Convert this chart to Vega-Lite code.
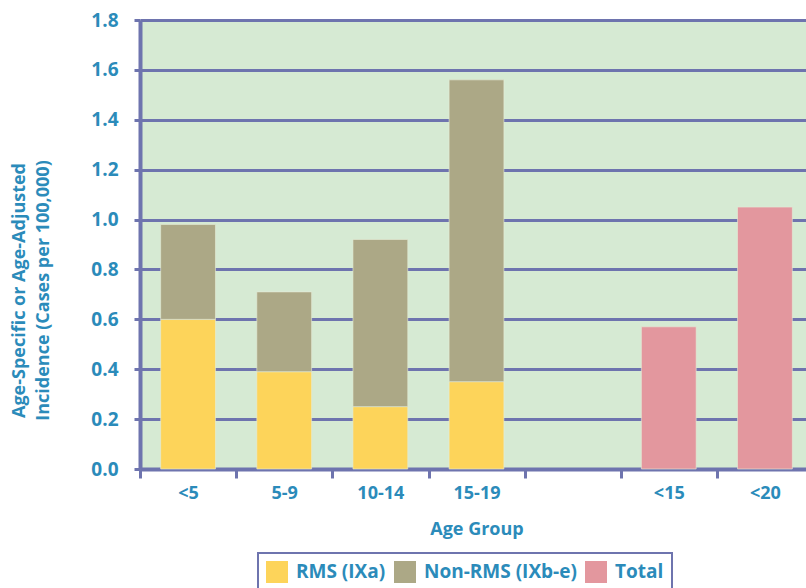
{
  "$schema": "https://vega.github.io/schema/vega-lite/v6.json",
  "width": 666,
  "height": 449,
  "autosize": {"type": "none"},
  "padding": {"left": 140, "top": 20, "right": 0, "bottom": 119},
  "background": "white",
  "config": {
    "font": "Open Sans",
    "view": {"stroke": null, "fill": "#d6ead3"},
    "legend": {"strokeWidth": 2},
    "axis": {
      "labelFont": "Open Sans",
      "titleFont": "Open Sans",
      "labelFontWeight": "bold",
      "titleFontWeight": "bold",
      "labelColor": "#2b8bba",
      "titleColor": "#2b8bba",
      "domainColor": "#6e74ae",
      "tickColor": "#6e74ae",
      "gridColor": "#6e74ae"
    }
  },
  "data": {
    "values": [
      {"group": "<5", "series": "RMS (IXa)", "value": 0.60, "o": 1},
      {"group": "<5", "series": "Non-RMS (IXb-e)", "value": 0.38, "o": 2},
      {"group": "5-9", "series": "RMS (IXa)", "value": 0.39, "o": 1},
      {"group": "5-9", "series": "Non-RMS (IXb-e)", "value": 0.32, "o": 2},
      {"group": "10-14", "series": "RMS (IXa)", "value": 0.25, "o": 1},
      {"group": "10-14", "series": "Non-RMS (IXb-e)", "value": 0.67, "o": 2},
      {"group": "15-19", "series": "RMS (IXa)", "value": 0.35, "o": 1},
      {"group": "15-19", "series": "Non-RMS (IXb-e)", "value": 1.21, "o": 2},
      {"group": "<15", "series": "Total", "value": 0.57, "o": 3},
      {"group": "<20", "series": "Total", "value": 1.05, "o": 3}
    ]
  },
  "mark": {"type": "bar", "stroke": "#e6ecd8", "strokeWidth": 0.6},
  "encoding": {
    "x": {
      "field": "group",
      "type": "nominal",
      "scale": {
        "domain": ["<5", "5-9", "10-14", "15-19", "", "<15", "<20"],
        "range": [0, 673],
        "paddingInner": 0.43,
        "paddingOuter": 0.215
      },
      "axis": {
        "title": "Age Group",
        "labelAngle": 0,
        "labelFontSize": 18,
        "titleFontSize": 18,
        "labelPadding": 6,
        "titlePadding": 18,
        "tickOffset": -48,
        "labelOffset": 48,
        "tickSize": 9,
        "tickWidth": 3,
        "domainWidth": 4,
        "grid": false
      }
    },
    "y": {
      "field": "value",
      "type": "quantitative",
      "stack": "zero",
      "scale": {"domain": [0, 1.8]},
      "axis": {
        "title": ["Age-Specific or Age-Adjusted", "Incidence (Cases per 100,000)"],
        "values": [0, 0.2, 0.4, 0.6, 0.8, 1.0, 1.2, 1.4, 1.6, 1.8],
        "format": ".1f",
        "labelFontSize": 19,
        "titleFontSize": 18,
        "titleLineHeight": 24,
        "titleAngle": -90,
        "titleX": -130,
        "titleY": 270,
        "titleAlign": "center",
        "titleBaseline": "top",
        "labelPadding": 16,
        "tickSize": 6,
        "tickWidth": 3,
        "domainWidth": 4,
        "grid": true,
        "gridWidth": 3
      }
    },
    "color": {
      "field": "series",
      "type": "nominal",
      "scale": {
        "domain": ["RMS (IXa)", "Non-RMS (IXb-e)", "Total"],
        "range": ["#fdd45a", "#aca886", "#e3979e"]
      },
      "legend": {
        "title": null,
        "orient": "none",
        "direction": "horizontal",
        "legendX": 118,
        "legendY": 533,
        "strokeColor": "#6e74ae",
        "padding": 8,
        "symbolType": "square",
        "symbolSize": 484,
        "symbolStrokeWidth": 0,
        "labelFont": "Open Sans",
        "labelFontWeight": "bold",
        "labelFontSize": 19,
        "labelColor": "#2b8bba",
        "labelOffset": 8,
        "columnPadding": 8
      }
    },
    "order": {"field": "o", "type": "quantitative"}
  }
}
